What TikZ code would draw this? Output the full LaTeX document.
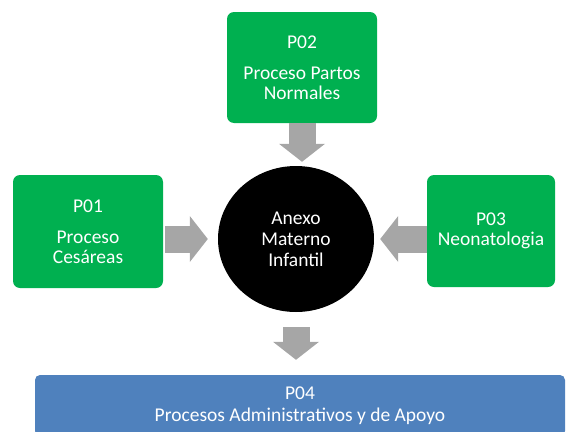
\documentclass[tikz,border=0pt]{standalone}
\usepackage{fontspec}
\setmainfont{Carlito}
\usetikzlibrary{arrows.meta}
\usetikzlibrary{shapes.geometric}
\definecolor{procgreen}{RGB}{0,176,80}
\definecolor{procblue}{RGB}{79,129,189}
\definecolor{arrowgray}{RGB}{166,166,166}
\tikzset{
	procbox/.style={fill=procgreen, text=white, rounded corners=7pt, align=center, inner sep=0pt,
		font=\fontsize{19.5}{19.5}\selectfont},
	supportbox/.style={procbox, fill=procblue, rounded corners=5pt},
	hub/.style={ellipse, fill=black, text=white, align=center, inner sep=0pt,
		minimum width=156pt, minimum height=146pt, font=\fontsize{19.5}{21}\selectfont},
	blockarrow/.style={arrowgray, line width=27pt,
		-{Triangle[width=46pt, length=18pt, line width=0pt]}}
}

\begin{document}
\begin{tikzpicture}[x=1pt, y=-1pt]
	\useasboundingbox (0,0) rectangle (567,431);

	\node[hub] (anexo) at (296,239) {Anexo\\Materno\\Infantil};

	\node[procbox, minimum width=150pt, minimum height=111pt] (p02) at (302,67.5)
		{P02\\[12pt]Proceso Partos\\Normales};
	\node[procbox, minimum width=150pt, minimum height=113pt] (p01) at (88,231.5)
		{P01\\[12pt]Proceso\\Cesáreas};
	\node[procbox, minimum width=128pt, minimum height=112pt] (p03) at (491,231)
		{P03\\Neonatologia};
	\node[supportbox, minimum width=530pt, minimum height=61pt] (p04) at (300,405.5)
		{P04\\[3pt]Procesos Administrativos y de Apoyo};

	% flechas hacia y desde el anexo
	\draw[blockarrow, shorten >=4pt] (p02.south) -- (p02.south |- anexo.north);
	\draw[blockarrow, shorten <=2pt, shorten >=10pt] (anexo.west -| p01.east) -- (anexo.west);
	\draw[blockarrow, shorten >=6pt] (anexo.east -| p03.west) -- (anexo.east);
	\draw[blockarrow, shorten <=15pt, shorten >=15pt] (anexo.south) -- (anexo.south |- p04.north);
\end{tikzpicture}
\end{document}
